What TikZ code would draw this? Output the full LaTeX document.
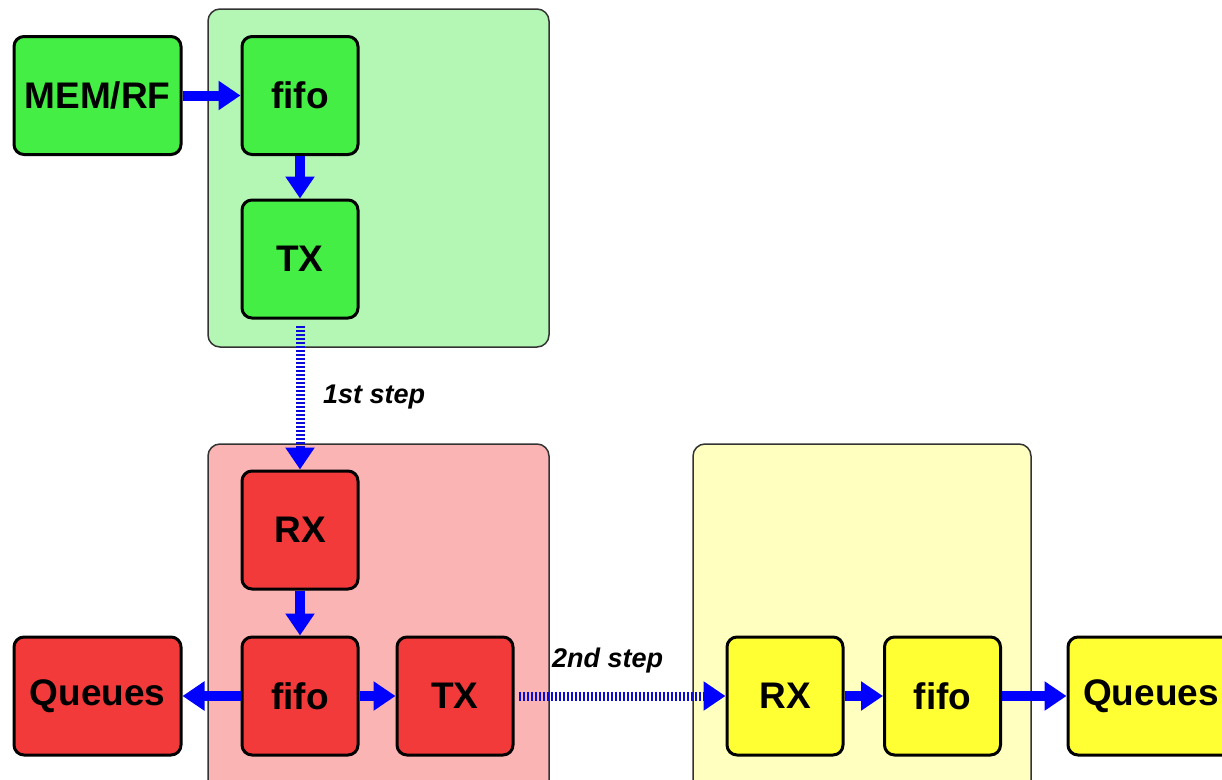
\documentclass[tikz,border=0pt]{standalone}
\usepackage{fontspec}
\setmainfont{Liberation Sans}
\usetikzlibrary{arrows.meta}

\definecolor{gbox}{RGB}{68,238,68}
\definecolor{gpanel}{RGB}{180,246,180}
\definecolor{rbox}{RGB}{242,58,58}
\definecolor{rpanel}{RGB}{250,180,180}
\definecolor{ybox}{RGB}{255,255,51}
\definecolor{ypanel}{RGB}{255,255,192}
\definecolor{flow}{RGB}{0,0,255}
\definecolor{hopblue}{RGB}{10,10,220}

\begin{document}
\begin{tikzpicture}[x=1pt,y=-1pt,
  panel/.style={draw=black!80, line width=1.5pt, rounded corners=12pt},
  unit/.style={draw=black, line width=3pt, rounded corners=10pt,
    minimum width=116pt, minimum height=118pt, inner sep=0pt,
    font=\fontsize{37}{40}\selectfont\bfseries},
  wide/.style={unit, minimum width=167pt},
  link/.style={flow, line width=10pt, -{Triangle[length=22pt,width=28pt]}},
  hop/.style={hopblue, line width=9pt, dash pattern=on 2.5pt off 1.5pt,
    -{Triangle[length=22pt,width=28pt,color=flow]}},
  steplabel/.style={anchor=west, inner sep=0pt,
    font=\fontsize{27}{30}\selectfont\bfseries\itshape}
]
\useasboundingbox (0,0) rectangle (1222,779);
\clip (0,0) rectangle (1222,779);
\fill[white] (0,0) rectangle (1222,779);

% stage panels
\draw[panel, fill=gpanel] (208,9) rectangle (549,347);
\draw[panel, fill=rpanel] (208,444) rectangle (549,810);
\draw[panel, fill=ypanel] (693,444) rectangle (1031,810);

% sender stage
\node[wide, fill=gbox] (mem)  at (97.5,95.5)  {MEM/RF};
\node[unit, fill=gbox] (gfifo) at (300,95.5)  {fifo};
\node[unit, fill=gbox] (gtx)   at (300,259)   {TX};

% relay stage
\node[unit, fill=rbox] (rrx)   at (300,530)   {RX};
\node[unit, fill=rbox] (rfifo) at (300,696)   {fifo};
\node[unit, fill=rbox] (rtx)   at (455,696)   {TX};
\node[wide, fill=rbox] (rq)    at (97.5,696)  {Queues};

% receiver stage
\node[unit, fill=ybox] (yrx)   at (785,696)   {RX};
\node[unit, fill=ybox] (yfifo) at (942.5,696) {fifo};
\node[unit, fill=ybox, minimum width=166pt] (yq) at (1151,696) {Queues};

% data paths
\draw[link] (mem.east) -- (gfifo.west);
\draw[link] (gfifo.south) -- (gtx.north);
\draw[link] (rrx.south) -- (rfifo.north);
\draw[link] (rfifo.west) -- (rq.east);
\draw[link] (rfifo.east) -- (rtx.west);
\draw[link] (yrx.east) -- (yfifo.west);
\draw[link] (yfifo.east) -- (yq.west);

% transfer hops
\draw[hop] ([yshift=-6pt]gtx.south) -- (rrx.north);
\draw[hop] ([xshift=4pt]rtx.east) -- (yrx.west);

\node[steplabel] (s1) at (323,397) {1st step};
\node[steplabel] (s2) at (552,661) {2nd step};
\end{tikzpicture}
\end{document}
